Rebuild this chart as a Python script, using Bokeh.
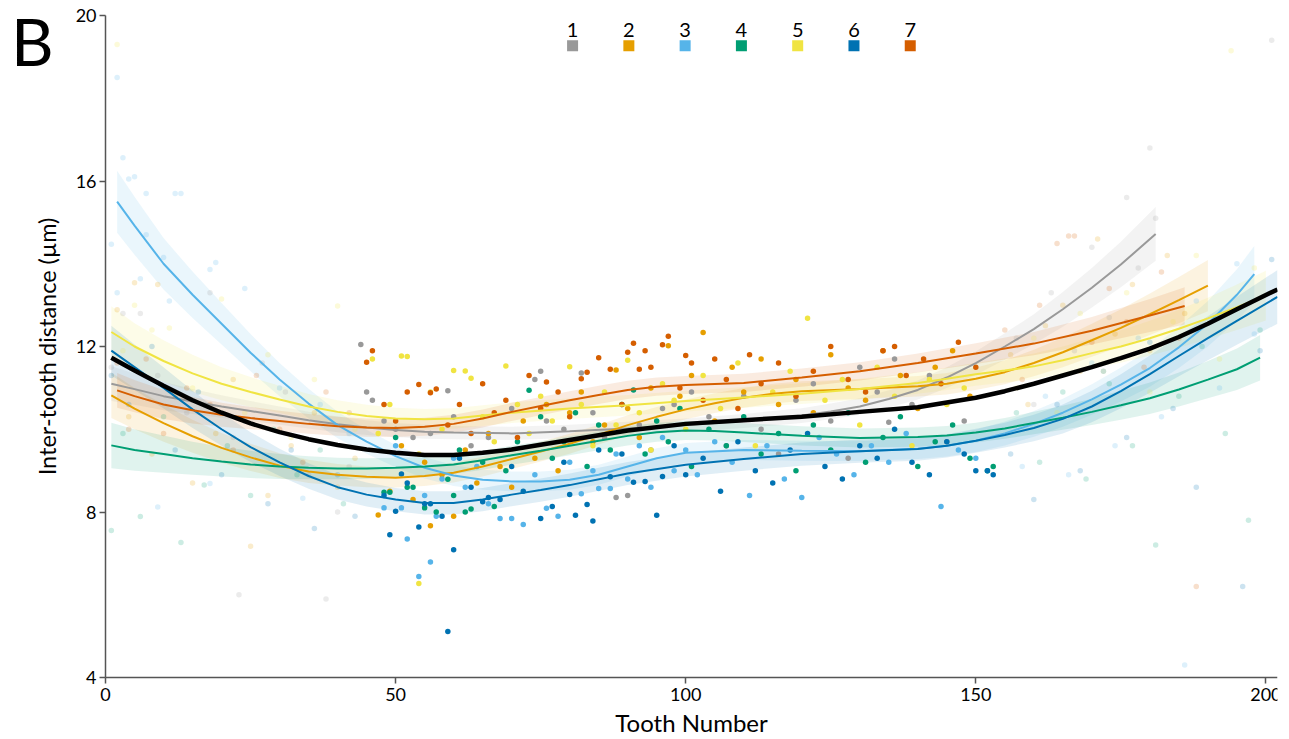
from bokeh.plotting import figure
from bokeh.models import Range1d, FixedTicker
from bokeh.core.properties import value
from bokeh.embed import file_html
from bokeh.resources import INLINE

FONT = "Lato"

# ---------------- data ----------------
groups = ["1", "2", "3", "4", "5", "6", "7"]
colors = ["#999999", "#E69F00", "#56B4E9", "#009E73", "#F0E442", "#0072B2", "#D55E00"]

# fitted curves (tooth number, inter-tooth distance) and CI half-widths
fit1_x = [1, 5, 10, 15, 20, 25, 30, 35, 40, 45, 50, 55, 60, 70, 80, 90, 100, 110, 120, 125, 130, 135, 140, 145, 150, 155, 160, 165, 170, 175, 181]
fit1_y = [11.1, 10.97, 10.8, 10.67, 10.55, 10.44, 10.33, 10.22, 10.12, 10.04, 9.98, 9.94, 9.92, 9.9, 9.95, 10.02, 10.1, 10.2, 10.33, 10.43, 10.55, 10.73, 10.95, 11.25, 11.6, 12.0, 12.42, 12.9, 13.42, 13.98, 14.72]
fit1_ci = [0.42, 0.38, 0.34, 0.3, 0.27, 0.24, 0.22, 0.2, 0.19, 0.18, 0.17, 0.17, 0.16, 0.16, 0.16, 0.16, 0.16, 0.17, 0.18, 0.19, 0.2, 0.21, 0.23, 0.25, 0.28, 0.32, 0.36, 0.42, 0.48, 0.55, 0.65]

fit2_x = [1, 5, 10, 15, 20, 25, 30, 35, 40, 45, 50, 55, 60, 65, 70, 75, 80, 85, 90, 95, 100, 105, 110, 115, 120, 130, 140, 145, 150, 155, 160, 165, 170, 175, 180, 185, 190]
fit2_y = [10.82, 10.5, 10.15, 9.83, 9.55, 9.32, 9.12, 8.98, 8.9, 8.85, 8.83, 8.87, 8.95, 9.1, 9.28, 9.46, 9.65, 9.87, 10.1, 10.3, 10.48, 10.63, 10.76, 10.86, 10.92, 10.97, 11.04, 11.1, 11.22, 11.38, 11.6, 11.86, 12.15, 12.45, 12.78, 13.12, 13.47]
fit2_ci = [0.55, 0.5, 0.45, 0.4, 0.36, 0.33, 0.3, 0.28, 0.26, 0.25, 0.24, 0.24, 0.24, 0.24, 0.24, 0.24, 0.24, 0.24, 0.24, 0.24, 0.24, 0.24, 0.24, 0.24, 0.24, 0.24, 0.25, 0.26, 0.27, 0.29, 0.32, 0.36, 0.4, 0.45, 0.5, 0.56, 0.62]

fit3_x = [2, 5, 10, 15, 20, 25, 30, 35, 40, 45, 50, 55, 60, 65, 70, 75, 80, 85, 90, 95, 100, 110, 120, 130, 140, 145, 150, 155, 160, 165, 170, 175, 180, 185, 190, 195, 198]
fit3_y = [15.5, 14.92, 14.0, 13.25, 12.55, 11.85, 11.2, 10.62, 10.1, 9.7, 9.35, 9.07, 8.88, 8.78, 8.74, 8.74, 8.78, 8.9, 9.1, 9.3, 9.43, 9.5, 9.48, 9.47, 9.53, 9.6, 9.72, 9.9, 10.13, 10.4, 10.72, 11.08, 11.48, 11.98, 12.55, 13.25, 13.75]
fit3_ci = [0.75, 0.7, 0.62, 0.56, 0.5, 0.45, 0.4, 0.36, 0.32, 0.29, 0.27, 0.26, 0.25, 0.24, 0.24, 0.24, 0.24, 0.24, 0.24, 0.24, 0.24, 0.24, 0.24, 0.24, 0.25, 0.26, 0.27, 0.29, 0.31, 0.34, 0.37, 0.41, 0.45, 0.5, 0.55, 0.62, 0.68]

fit4_x = [1, 5, 10, 15, 20, 25, 30, 35, 40, 45, 50, 55, 60, 65, 70, 75, 80, 85, 90, 95, 100, 105, 110, 120, 130, 140, 145, 150, 155, 160, 165, 170, 175, 180, 185, 190, 195, 199]
fit4_y = [9.61, 9.5, 9.4, 9.3, 9.22, 9.15, 9.1, 9.07, 9.05, 9.05, 9.07, 9.1, 9.15, 9.25, 9.37, 9.48, 9.6, 9.72, 9.84, 9.93, 9.97, 9.96, 9.92, 9.84, 9.79, 9.81, 9.85, 9.92, 10.02, 10.15, 10.28, 10.42, 10.58, 10.75, 10.96, 11.2, 11.45, 11.73]
fit4_ci = [0.55, 0.5, 0.45, 0.4, 0.36, 0.33, 0.3, 0.28, 0.26, 0.25, 0.24, 0.23, 0.23, 0.23, 0.23, 0.23, 0.23, 0.23, 0.23, 0.23, 0.23, 0.23, 0.23, 0.23, 0.23, 0.23, 0.23, 0.24, 0.25, 0.27, 0.29, 0.32, 0.35, 0.38, 0.41, 0.45, 0.5, 0.55]

fit5_x = [1, 5, 10, 15, 20, 25, 30, 35, 40, 45, 50, 55, 60, 65, 70, 80, 90, 100, 110, 120, 130, 140, 145, 150, 155, 160, 165, 170, 175, 180, 185, 190, 195, 200]
fit5_y = [12.35, 12.0, 11.65, 11.35, 11.1, 10.9, 10.72, 10.55, 10.42, 10.32, 10.26, 10.24, 10.26, 10.33, 10.4, 10.5, 10.58, 10.68, 10.77, 10.86, 10.97, 11.12, 11.22, 11.33, 11.42, 11.52, 11.67, 11.84, 12.0, 12.2, 12.43, 12.68, 12.95, 13.23]
fit5_ci = [0.62, 0.56, 0.5, 0.45, 0.4, 0.36, 0.33, 0.3, 0.28, 0.27, 0.26, 0.25, 0.25, 0.25, 0.25, 0.25, 0.25, 0.25, 0.25, 0.25, 0.25, 0.26, 0.27, 0.28, 0.29, 0.31, 0.33, 0.36, 0.39, 0.42, 0.46, 0.5, 0.55, 0.6]

fit6_x = [1, 5, 10, 15, 20, 25, 30, 35, 40, 45, 50, 55, 60, 65, 70, 75, 80, 90, 100, 110, 120, 130, 140, 145, 150, 155, 160, 165, 170, 175, 180, 185, 190, 195, 202]
fit6_y = [11.9, 11.5, 11.0, 10.48, 10.0, 9.57, 9.2, 8.87, 8.6, 8.42, 8.3, 8.22, 8.22, 8.3, 8.42, 8.53, 8.65, 8.93, 9.14, 9.28, 9.4, 9.47, 9.52, 9.6, 9.72, 9.86, 10.03, 10.25, 10.55, 10.92, 11.33, 11.77, 12.2, 12.62, 13.2]
fit6_ci = [0.6, 0.55, 0.5, 0.45, 0.4, 0.36, 0.33, 0.31, 0.3, 0.29, 0.28, 0.28, 0.28, 0.28, 0.28, 0.28, 0.28, 0.28, 0.28, 0.28, 0.28, 0.28, 0.28, 0.28, 0.29, 0.3, 0.32, 0.35, 0.38, 0.41, 0.45, 0.49, 0.53, 0.58, 0.65]

fit7_x = [2, 5, 10, 15, 20, 25, 30, 35, 40, 45, 50, 55, 60, 65, 70, 75, 80, 85, 90, 95, 100, 110, 120, 130, 140, 150, 160, 170, 180, 186]
fit7_y = [10.94, 10.8, 10.6, 10.46, 10.35, 10.27, 10.2, 10.13, 10.07, 10.04, 10.03, 10.06, 10.13, 10.26, 10.42, 10.56, 10.7, 10.83, 10.95, 11.03, 11.07, 11.12, 11.25, 11.4, 11.6, 11.83, 12.07, 12.38, 12.75, 12.98]
fit7_ci = [0.42, 0.39, 0.35, 0.32, 0.29, 0.27, 0.25, 0.24, 0.23, 0.22, 0.22, 0.22, 0.22, 0.22, 0.22, 0.22, 0.22, 0.22, 0.22, 0.22, 0.22, 0.22, 0.22, 0.22, 0.23, 0.25, 0.28, 0.33, 0.4, 0.45]

all_x = [1, 5, 10, 15, 20, 25, 30, 35, 40, 45, 50, 55, 60, 65, 70, 80, 90, 100, 110, 120, 130, 140, 150, 155, 160, 165, 170, 175, 180, 185, 190, 195, 202]
all_y = [11.73, 11.42, 11.05, 10.7, 10.4, 10.14, 9.93, 9.76, 9.62, 9.51, 9.43, 9.38, 9.38, 9.43, 9.51, 9.74, 9.97, 10.13, 10.22, 10.3, 10.42, 10.53, 10.76, 10.92, 11.1, 11.3, 11.5, 11.72, 11.95, 12.23, 12.55, 12.9, 13.38]

# measured points (highlighted range)
pts1_x = [44, 45, 46, 48, 50, 53, 56, 59, 60, 63, 66, 70, 74, 75, 76, 79, 82, 84, 86, 88, 90, 92, 94, 96, 98, 101, 104, 107, 110, 113, 116, 119, 122, 125, 128, 130, 133, 135, 136, 139, 142, 145, 148]
pts1_y = [12.05, 10.9, 10.7, 10.2, 10.0, 9.8, 9.9, 10.93, 10.3, 9.6, 9.8, 10.5, 11.2, 11.4, 10.2, 10.0, 11.36, 10.4, 9.8, 8.35, 8.4, 10.1, 9.5, 10.5, 10.6, 10.9, 10.3, 9.6, 10.8, 10.0, 9.4, 10.7, 11.1, 10.2, 9.3, 11.5, 10.9, 10.17, 11.7, 10.6, 11.3, 9.7, 10.2]

pts2_x = [47, 49, 51, 53, 55, 56, 58, 60, 62, 64, 66, 68, 70, 72, 74, 76, 78, 80, 82, 84, 86, 88, 90, 92, 94, 97, 99, 101, 103, 105, 108, 110, 113, 116, 119, 122, 125, 128, 131, 134, 137, 140, 143, 146, 149]
pts2_y = [7.93, 8.5, 9.6, 8.3, 9.2, 7.67, 8.9, 7.9, 9.5, 8.7, 9.9, 9.1, 8.6, 10.2, 9.3, 10.6, 9.0, 10.4, 10.9, 9.7, 10.1, 11.43, 10.5, 9.8, 11.0, 12.02, 10.8, 11.3, 12.34, 10.2, 11.5, 10.9, 11.7, 10.6, 11.2, 10.4, 11.8, 11.0, 10.7, 11.9, 11.3, 10.5, 11.5, 11.9, 10.8]

pts3_x = [48, 50, 51, 52, 54, 55, 56, 57, 58, 60, 62, 64, 66, 68, 70, 72, 74, 76, 78, 80, 82, 84, 85, 87, 88, 90, 92, 94, 96, 98, 100, 102, 105, 108, 111, 114, 117, 120, 123, 126, 129, 132, 135, 138, 144, 147, 150]
pts3_y = [8.1, 9.6, 8.1, 7.35, 6.44, 8.4, 6.79, 7.9, 8.8, 9.3, 8.6, 9.1, 8.2, 7.84, 7.84, 7.7, 8.9, 8.09, 7.9, 9.2, 8.44, 9.0, 8.57, 8.57, 9.4, 8.8, 9.6, 8.6, 9.8, 9.0, 9.5, 8.9, 9.7, 9.2, 8.4, 9.6, 8.8, 8.35, 9.8, 9.4, 8.9, 9.6, 9.2, 9.9, 8.13, 9.5, 9.3]

pts4_x = [48, 49, 50, 52, 53, 55, 57, 59, 60, 61, 62, 63, 65, 67, 69, 71, 73, 75, 77, 79, 81, 83, 85, 87, 89, 91, 93, 95, 97, 99, 101, 104, 107, 110, 113, 116, 119, 122, 125, 128, 131, 134, 137, 140, 143, 146, 149, 152, 153]
pts4_y = [8.48, 8.48, 9.8, 8.6, 8.6, 8.1, 8.0, 8.79, 8.4, 9.5, 8.0, 8.07, 9.2, 8.13, 9.0, 9.7, 10.94, 10.3, 9.3, 9.7, 10.4, 9.1, 10.1, 9.5, 10.6, 10.95, 9.4, 10.2, 9.7, 10.5, 9.1, 10.0, 9.6, 10.3, 9.4, 9.9, 9.0, 10.1, 9.5, 10.4, 9.2, 9.8, 10.3, 9.1, 9.7, 10.1, 9.3, 9.0, 9.1]

pts5_x = [46, 47, 49, 51, 52, 54, 56, 58, 60, 62, 63, 65, 67, 69, 71, 73, 75, 77, 80, 82, 84, 86, 88, 90, 92, 94, 96, 98, 100, 103, 106, 109, 112, 115, 118, 121, 124, 127, 130, 133, 136, 139, 142, 145, 148, 54]
pts5_y = [11.7, 9.9, 10.6, 11.77, 11.76, 9.4, 10.9, 10.0, 11.42, 11.41, 11.23, 10.3, 9.7, 11.53, 10.6, 9.9, 10.8, 10.2, 11.51, 10.6, 9.6, 10.9, 10.1, 11.67, 10.4, 9.5, 11.1, 10.7, 10.0, 11.3, 10.5, 11.6, 9.6, 10.9, 11.4, 12.68, 10.7, 11.2, 10.1, 11.5, 10.8, 9.6, 11.2, 10.6, 11.0, 6.27]

pts6_x = [48, 49, 50, 51, 52, 54, 55, 56, 58, 59, 60, 61, 63, 65, 66, 68, 70, 72, 75, 77, 79, 80, 81, 83, 84, 85, 87, 89, 91, 93, 95, 96, 98, 100, 103, 106, 109, 112, 115, 118, 121, 124, 127, 130, 133, 136, 139, 142, 145, 148, 150, 152, 153]
pts6_y = [8.4, 7.45, 8.02, 8.92, 8.7, 7.64, 8.2, 8.2, 7.9, 5.11, 7.09, 9.3, 8.6, 8.25, 8.35, 8.3, 9.1, 8.5, 7.84, 8.13, 9.2, 8.42, 7.92, 8.18, 7.78, 9.5, 8.85, 9.4, 8.72, 8.74, 7.92, 8.86, 9.6, 8.9, 9.3, 8.5, 9.7, 9.0, 8.7, 9.5, 9.9, 9.1, 8.8, 9.6, 9.3, 10.0, 9.2, 8.9, 9.7, 9.4, 9.0, 9.0, 8.9]

pts7_x = [45, 46, 48, 50, 52, 54, 56, 57, 59, 61, 63, 65, 67, 69, 71, 73, 75, 76, 78, 80, 82, 83, 85, 87, 89, 90, 91, 92, 93, 94, 96, 97, 99, 100, 101, 103, 105, 107, 109, 111, 113, 116, 119, 122, 125, 128, 131, 134, 136, 138, 141, 144, 147, 150]
pts7_y = [11.62, 11.9, 10.6, 10.2, 10.9, 11.08, 10.88, 10.97, 10.1, 10.6, 9.9, 11.1, 10.4, 10.7, 9.8, 11.3, 10.5, 11.14, 10.9, 10.3, 11.22, 11.38, 11.73, 11.45, 10.6, 11.86, 12.08, 11.45, 11.9, 11.5, 12.04, 12.25, 11.0, 11.78, 11.6, 10.7, 11.7, 11.2, 10.5, 11.8, 11.1, 11.6, 10.8, 11.4, 12.0, 11.2, 10.9, 11.9, 12.0, 11.3, 11.7, 11.1, 12.1, 11.5]

# measured points outside the highlighted range (faded)
far1_x = [1, 3, 6, 9, 14, 18, 22, 23, 27, 31, 35, 38, 40, 42, 157, 160, 163, 167, 170, 173, 176, 178, 180, 181, 201]
far1_y = [11.5, 12.8, 12.8, 11.3, 10.4, 13.3, 9.8, 6.0, 11.6, 10.9, 8.9, 5.9, 8.0, 9.1, 12.2, 10.6, 13.3, 11.9, 14.4, 12.7, 15.6, 13.9, 16.8, 15.1, 19.4]

far2_x = [2, 4, 5, 8, 9, 12, 15, 19, 22, 25, 28, 32, 36, 40, 43, 156, 159, 162, 165, 168, 171, 174, 177, 180, 183, 186]
far2_y = [12.89, 10.3, 13.54, 9.4, 13.5, 10.8, 8.7, 9.9, 11.2, 7.17, 8.4, 9.6, 10.4, 8.6, 9.3, 11.8, 10.6, 12.5, 13.0, 11.4, 14.6, 12.3, 13.5, 11.9, 14.2, 12.8]

far3_x = [1, 2, 2, 3, 4, 5, 6, 7, 7, 10, 11, 12, 13, 18, 19, 24, 9, 18, 30, 34, 37, 42, 158, 162, 166, 170, 174, 178, 182, 186, 188, 192, 195, 198]
far3_y = [14.47, 13.3, 18.5, 16.56, 16.05, 16.1, 13.64, 14.7, 15.7, 14.15, 13.1, 15.7, 15.7, 13.86, 14.03, 13.4, 8.12, 8.69, 11.0, 8.33, 10.6, 9.9, 9.1, 10.8, 8.9, 11.6, 9.6, 12.2, 10.3, 4.3, 13.1, 11.0, 14.0, 12.3]

far4_x = [1, 3, 6, 10, 13, 17, 21, 25, 29, 33, 37, 41, 157, 161, 165, 169, 173, 177, 181, 185, 189, 193, 197, 199]
far4_y = [7.55, 9.9, 7.89, 10.3, 7.26, 8.65, 9.6, 8.4, 10.0, 8.9, 9.5, 8.2, 10.4, 9.2, 10.9, 8.8, 11.1, 9.6, 7.2, 10.8, 12.0, 9.9, 7.8, 12.4]

far5_x = [2, 3, 5, 8, 11, 15, 20, 24, 28, 32, 36, 40, 43, 157, 160, 164, 168, 172, 176, 180, 184, 188, 192, 194, 198]
far5_y = [19.3, 11.9, 13.0, 12.4, 12.45, 11.0, 13.15, 10.4, 11.8, 9.8, 11.2, 12.98, 10.0, 11.0, 12.2, 10.4, 12.8, 11.4, 13.3, 10.9, 12.6, 14.2, 11.7, 19.15, 13.9]

far6_x = [1, 4, 8, 12, 16, 20, 24, 28, 32, 36, 40, 43, 156, 160, 164, 168, 172, 176, 180, 184, 188, 192, 196, 199, 201]
far6_y = [11.3, 10.6, 12.0, 9.5, 10.9, 8.9, 10.2, 8.2, 9.5, 7.6, 8.9, 7.9, 9.4, 8.3, 10.6, 9.0, 11.4, 9.8, 12.1, 10.5, 8.6, 12.7, 6.2, 11.9, 14.1]

far7_x = [2, 4, 7, 10, 14, 18, 22, 26, 30, 34, 38, 42, 155, 158, 161, 164, 166, 167, 170, 173, 176, 179, 182, 185, 188]
far7_y = [11.6, 10.0, 11.7, 9.9, 11.0, 10.6, 9.5, 11.3, 10.0, 9.2, 10.9, 10.4, 12.4, 11.2, 13.0, 14.49, 14.67, 14.67, 12.1, 13.4, 12.6, 11.5, 13.8, 12.2, 6.2]

x_ticks = [0, 50, 100, 150, 200]
y_ticks = [4, 8, 12, 16, 20]
x_title = "Tooth Number"
y_title = "Inter-tooth distance (µm)"

fits = [(fit1_x, fit1_y, fit1_ci), (fit2_x, fit2_y, fit2_ci), (fit3_x, fit3_y, fit3_ci),
        (fit4_x, fit4_y, fit4_ci), (fit5_x, fit5_y, fit5_ci), (fit6_x, fit6_y, fit6_ci),
        (fit7_x, fit7_y, fit7_ci)]
pts = [(pts1_x, pts1_y), (pts2_x, pts2_y), (pts3_x, pts3_y), (pts4_x, pts4_y),
       (pts5_x, pts5_y), (pts6_x, pts6_y), (pts7_x, pts7_y)]
fars = [(far1_x, far1_y), (far2_x, far2_y), (far3_x, far3_y), (far4_x, far4_y),
        (far5_x, far5_y), (far6_x, far6_y), (far7_x, far7_y)]

# ---------------- figure ----------------
# The frame covers the whole canvas; both axes are pinned (x at y=4, y at x=0)
# so every text sits inside the frame.
PX_X = 5.8      # pixels per tooth
PX_Y = 41.375   # pixels per micrometre
p = figure(frame_width=1277, frame_height=739, output_backend="svg", toolbar_location=None,
           x_range=Range1d(-105 / PX_X, 202),
           y_range=Range1d(4 - 62 / PX_Y, 20 + 15 / PX_Y),
           min_border=0, min_border_right=6)
p.outline_line_color = None
p.grid.visible = False
p.background_fill_color = "white"

for (fx, fy, fc), c in zip(fits, colors):
    p.varea(x=fx, y1=[a - b for a, b in zip(fy, fc)], y2=[a + b for a, b in zip(fy, fc)],
            fill_color=c, fill_alpha=0.12)

for (sx, sy), c in zip(fars, colors):
    p.scatter(sx, sy, size=5.5, fill_color=c, line_color=None, fill_alpha=0.2)

for (sx, sy), c in zip(pts, colors):
    p.scatter(sx, sy, size=5.5, fill_color=c, line_color=None, fill_alpha=1.0)

for (fx, fy, fc), c in zip(fits, colors):
    p.line(fx, fy, line_color=c, line_width=2)

p.line(all_x, all_y, line_color="black", line_width=4.5)

# legend (labels above swatches)
leg_x = [80.5 + 9.7 * i for i in range(len(groups))]
p.text(x=leg_x, y=[19.64] * len(groups), text=groups, text_align="center", text_baseline="middle",
       text_font=value(FONT), text_font_size="20px", text_color="black")
p.scatter(x=leg_x, y=[19.27] * len(groups), marker="square", size=11, fill_color=colors,
          line_color=None)

# panel letter
p.text(x=[-16.3], y=[19.40], text=["B"], text_font=value(FONT), text_font_size="66px",
       text_color="black", text_baseline="middle", text_align="left")

# x axis title (centred under the axis extent)
p.text(x=[101.0], y=[4 - 45 / PX_Y], text=[x_title], text_font=value(FONT),
       text_font_size="24px", text_color="black", text_align="center", text_baseline="middle")

for ax in (p.xaxis[0], p.yaxis[0]):
    ax.axis_line_color = "#555555"
    ax.axis_line_width = 1.5
    ax.major_tick_line_color = "#555555"
    ax.major_tick_line_width = 1.5
    ax.major_tick_out = 6
    ax.major_tick_in = 0
    ax.minor_tick_line_color = None
    ax.major_label_text_font = FONT
    ax.major_label_text_font_size = "18px"
    ax.major_label_text_color = "black"
    ax.axis_label_text_font = FONT
    ax.axis_label_text_font_style = "normal"
    ax.axis_label_text_color = "black"

p.xaxis[0].ticker = FixedTicker(ticks=x_ticks)
p.yaxis[0].ticker = FixedTicker(ticks=y_ticks)
p.xaxis[0].bounds = (0, 202)
p.yaxis[0].bounds = (4, 20)
p.xaxis[0].fixed_location = 4
p.yaxis[0].fixed_location = 0
p.yaxis[0].axis_label = y_title
p.yaxis[0].axis_label_text_font_size = "23.5px"
p.xaxis[0].major_label_standoff = 4
p.yaxis[0].major_label_standoff = 3
p.yaxis[0].axis_label_standoff = 12

open("out.html", "w").write(file_html(p, INLINE))
